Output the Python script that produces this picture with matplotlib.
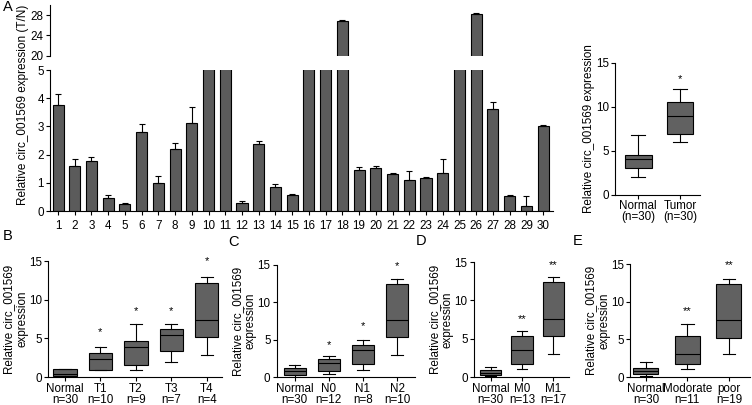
import numpy as np
import matplotlib
matplotlib.use("Agg")
import matplotlib.pyplot as plt

plt.rcParams['font.family'] = ['Liberation Sans', 'DejaVu Sans']
plt.rcParams['font.size'] = 8.4

BAR_COLOR = "#5b5b5b"
BOX_COLOR = "#616161"
LW = 0.8

# panel A, bars (samples 10, 11, 16, 17, 25 run off the lower axis)
samples = list(range(1, 31))
bar_means = [3.77, 1.61, 1.76, 0.45, 0.25, 2.79, 1.00, 2.21, 3.13, 12.0,
             10.5, 0.28, 2.39, 0.86, 0.56, 14.0, 11.0, 26.9, 1.46, 1.52,
             1.33, 1.11, 1.17, 1.36, 13.0, 28.2, 3.61, 0.53, 0.18, 3.03]
bar_err = [0.37, 0.24, 0.16, 0.13, 0.03, 0.30, 0.23, 0.20, 0.57, 0.0,
           0.0, 0.08, 0.09, 0.10, 0.03, 0.0, 0.0, 0.12, 0.09, 0.06,
           0.03, 0.30, 0.05, 0.49, 0.0, 0.15, 0.24, 0.05, 0.36, 0.03]

# box plots: [whislo, q1, med, q3, whishi]
a_labels = ["Normal\n(n=30)", "Tumor\n(n=30)"]
a_boxes = [[2.0, 3.0, 4.05, 4.5, 6.8], [6.0, 6.9, 9.0, 10.6, 12.0]]
a_stars = ["", "*"]
a_star_y = [0, 13.2]

b_labels = ["Normal\nn=30", "T1\nn=10", "T2\nn=9", "T3\nn=7", "T4\nn=4"]
b_boxes = [[0.0, 0.1, 0.4, 1.0, 1.1], [0.9, 0.92, 2.4, 3.1, 3.9],
           [0.95, 1.6, 3.9, 4.7, 6.9], [1.9, 3.4, 5.4, 6.2, 6.9],
           [2.9, 5.2, 7.4, 12.2, 12.9]]
b_stars = ["", "*", "*", "*", "*"]
b_star_y = [0, 5.8, 8.6, 8.6, 15.0]

c_labels = ["Normal\nn=30", "N0\nn=12", "N1\nn=8", "N2\nn=10"]
c_boxes = [[0.0, 0.3, 0.8, 1.2, 1.55], [0.45, 0.8, 1.9, 2.45, 2.8],
           [1.0, 1.8, 3.6, 4.3, 5.0], [3.0, 5.3, 7.6, 12.4, 13.1]]
c_stars = ["", "*", "*", "*"]
c_star_y = [0, 4.3, 6.8, 14.9]

d_labels = ["Normal\nn=30", "M0\nn=13", "M1\nn=17"]
d_boxes = [[0.1, 0.3, 0.55, 0.95, 1.35], [1.0, 1.75, 3.55, 5.3, 6.0],
           [3.05, 5.3, 7.6, 12.35, 13.0]]
d_stars = ["", "**", "**"]
d_star_y = [0, 7.5, 14.6]

e_labels = ["Normal\nn=30", "Modorate\nn=11", "poor\nn=19"]
e_boxes = [[0.18, 0.4, 0.75, 1.2, 2.0], [1.05, 1.7, 3.05, 5.5, 7.0],
           [3.05, 5.25, 7.55, 12.3, 13.0]]
e_stars = ["", "**", "**"]
e_star_y = [0, 8.7, 14.8]

YLABEL2 = "Relative circ_001569\nexpression"


def style_axes(ax):
    for s in ["top", "right"]:
        ax.spines[s].set_visible(False)
    for s in ["left", "bottom"]:
        ax.spines[s].set_linewidth(LW)
    ax.tick_params(width=LW, length=3, pad=1.5)


def draw_box(ax, boxes, labels, stars, star_y, xlim, width, ylabel, label_x):
    stats = []
    for b in boxes:
        stats.append(dict(whislo=b[0], q1=b[1], med=b[2], q3=b[3],
                          whishi=b[4], fliers=[]))
    pos = np.arange(1, len(boxes) + 1)
    ax.bxp(stats, positions=pos, widths=width, patch_artist=True,
           showfliers=False,
           boxprops=dict(facecolor=BOX_COLOR, edgecolor="black", linewidth=LW),
           medianprops=dict(color="black", linewidth=LW),
           whiskerprops=dict(color="black", linewidth=LW),
           capprops=dict(color="black", linewidth=LW))
    for p, s, y in zip(pos, stars, star_y):
        if s:
            ax.text(p, y, s, ha="center", va="center", fontsize=8)
    ax.set_xlim(xlim)
    ax.set_ylim(0, 15)
    ax.set_yticks([0, 5, 10, 15])
    ax.set_xticks(pos)
    ax.set_xticklabels(labels)
    for t in ax.get_xticklabels():
        t.set_linespacing(0.9)
    style_axes(ax)
    ax.tick_params(axis="x", pad=1)
    ax.set_ylabel(ylabel, linespacing=1.1)
    ax.yaxis.set_label_coords(label_x, 0.5)


fig = plt.figure(figsize=(7.52, 4.05), dpi=100)

# panel A, broken bar chart
ax_lo = fig.add_axes([0.0665, 0.479, 0.669, 0.348])
ax_hi = fig.add_axes([0.0665, 0.862, 0.669, 0.126])
low_err = np.zeros(len(bar_err))
for ax in (ax_lo, ax_hi):
    ax.bar(samples, bar_means, width=0.66, color=BAR_COLOR,
           edgecolor="black", linewidth=LW)
    ax.errorbar(samples, bar_means, yerr=[low_err, bar_err], fmt="none",
                ecolor="black", elinewidth=LW, capsize=2.2, capthick=LW)
    ax.set_xlim(0.52, 30.6)
    style_axes(ax)
ax_lo.set_ylim(0, 5)
ax_lo.set_yticks([0, 1, 2, 3, 4, 5])
ax_lo.set_xticks(samples)
ax_lo.set_xticklabels([str(s) for s in samples])
ax_lo.tick_params(axis="x", pad=3.5)
ax_hi.set_ylim(20, 30)
ax_hi.set_yticks([20, 24, 28])
ax_hi.spines["bottom"].set_visible(False)
ax_hi.set_xticks([])
fig.text(0.03, 0.74, "Relative circ_001569 expression (T/N)",
         rotation=90, ha="center", va="center", fontsize=8.5)

# panel A, box plot
ax_a = fig.add_axes([0.818, 0.519, 0.113, 0.326])
draw_box(ax_a, a_boxes, a_labels, a_stars, a_star_y, (0.45, 2.48), 0.64,
         "Relative circ_001569 expression", -0.235)

ax_b = fig.add_axes([0.0638, 0.069, 0.231, 0.286])
draw_box(ax_b, b_boxes, b_labels, b_stars, b_star_y, (0.52, 5.42), 0.66,
         YLABEL2, -0.115)

ax_c = fig.add_axes([0.368, 0.069, 0.184, 0.277])
draw_box(ax_c, c_boxes, c_labels, c_stars, c_star_y, (0.47, 4.53), 0.66,
         YLABEL2, -0.145)

ax_d = fig.add_axes([0.630, 0.069, 0.126, 0.284])
draw_box(ax_d, d_boxes, d_labels, d_stars, d_star_y, (0.46, 3.48), 0.68,
         YLABEL2, -0.21)

ax_e = fig.add_axes([0.838, 0.069, 0.160, 0.279])
draw_box(ax_e, e_boxes, e_labels, e_stars, e_star_y, (0.62, 3.52), 0.6,
         YLABEL2, -0.165)

for letter, x, y in [("A", 0.004, 0.982), ("B", 0.004, 0.418),
                     ("C", 0.304, 0.402), ("D", 0.553, 0.404),
                     ("E", 0.762, 0.404)]:
    fig.text(x, y, letter, fontsize=10.5, ha="left", va="center")

fig.savefig("out.png", dpi=100)
